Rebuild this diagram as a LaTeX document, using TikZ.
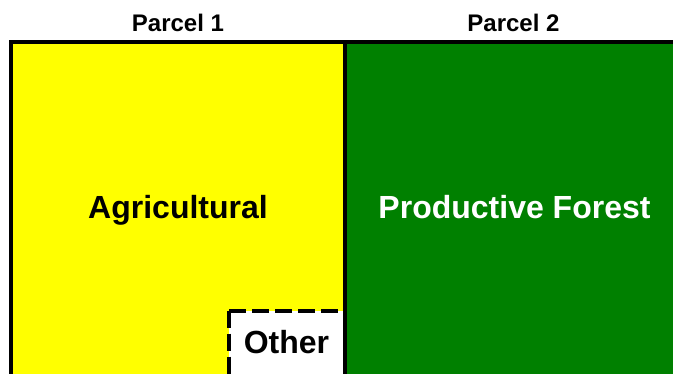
\documentclass[tikz,border=0pt]{standalone}
\usepackage{fontspec}
\setmainfont{Liberation Sans}
\definecolor{agriyellow}{RGB}{255, 255, 0}
\definecolor{forestgreen}{RGB}{0, 128, 0}
\usepackage{tikz}
\usetikzlibrary{positioning}

\begin{document}
\begin{tikzpicture}[
  x=1pt, y=-1pt,
  head/.style={font=\fontsize{24}{28}\selectfont\bfseries, anchor=base, inner sep=0pt},
  label/.style={font=\fontsize{32}{38}\selectfont\bfseries, anchor=base, inner sep=0pt},
  border/.style={draw=black, line width=4pt},
  otherline/.style={draw=black, line width=4pt, dash pattern=on 17pt off 6pt}
]
  \useasboundingbox (0,0) rectangle (673,373);
  \clip (0,0) rectangle (673,373);

  % Parcel fills
  \fill[agriyellow] (10.5,42) rectangle (345,400);
  \fill[forestgreen] (345,42) rectangle (700,400);
  \fill[white] (229,310.5) rectangle (345,400);

  % Other patch, dashed edges from its corner
  \draw[otherline] (229,310.5) -- (345,310.5);
  \draw[otherline] (229,310.5) -- (229,400);

  % Parcel boundaries
  \draw[border] (345,42) -- (345,400);
  \draw[border] (10.5,400) -- (10.5,42) -- (700,42);

  % Headings
  \node[head] (p1) at (178,31) {Parcel 1};
  \node[head] (p2) at (513.5,31) {Parcel 2};

  % Land use labels
  \node[label] (agri) at (178,218) {Agricultural};
  \node[label, white] (forest) at (514.5,218) {Productive Forest};
  \node[label] (other) at (286.5,353) {Other};
\end{tikzpicture}
\end{document}
